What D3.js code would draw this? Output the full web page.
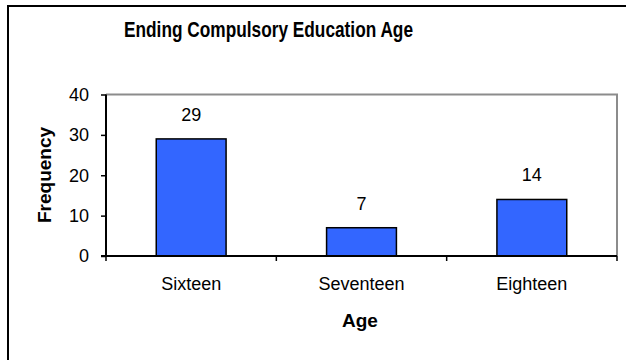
<!DOCTYPE html>
<html>
<head>
<meta charset="utf-8">
<script src="https://cdn.jsdelivr.net/npm/d3@7"></script>
<style>
  html, body { margin: 0; padding: 0; background: #fff; }
  svg { display: block; }
  text { font-family: "Liberation Sans", Arial, sans-serif; fill: #000; }
</style>
</head>
<body>
<svg id="chart" width="626" height="360"></svg>
<script>
// Survey results: age at which compulsory education ends
const categories = ["Sixteen", "Seventeen", "Eighteen"];
const frequencies = [29, 7, 14];
const yTicks = [0, 10, 20, 30, 40];
const titleText = "Ending Compulsory Education Age";
const xTitle = "Age";
const yTitle = "Frequency";

const svg = d3.select("#chart");

// outer chart frame (runs off the right and bottom edges)
svg.append("rect")
  .attr("x", 8).attr("y", 6)
  .attr("width", 700).attr("height", 400)
  .attr("fill", "#fff")
  .attr("stroke", "#000")
  .attr("stroke-width", 2);

const plot = { left: 106, right: 617, top: 94.5, bottom: 256 };

const x = d3.scaleBand()
  .domain(categories)
  .range([plot.left, plot.right])
  .paddingInner(0.59)
  .paddingOuter(0.295);

const y = d3.scaleLinear()
  .domain([0, 40])
  .range([plot.bottom, plot.top]);

// plot area border (top and right, grey)
svg.append("path")
  .attr("d", `M${plot.left},${y(40)}H${plot.right}V${plot.bottom}`)
  .attr("fill", "none")
  .attr("stroke", "#8c8c8c")
  .attr("stroke-width", 2);

// bars
svg.append("g").selectAll("rect")
  .data(categories)
  .join("rect")
  .attr("x", d => x(d))
  .attr("width", x.bandwidth())
  .attr("y", (d, i) => y(frequencies[i]))
  .attr("height", (d, i) => y(0) - y(frequencies[i]))
  .attr("fill", "#3366ff")
  .attr("stroke", "#000")
  .attr("stroke-width", 1.5);

// value labels
svg.append("g").selectAll("text")
  .data(categories)
  .join("text")
  .attr("x", d => x(d) + x.bandwidth() / 2)
  .attr("y", (d, i) => y(frequencies[i]) - 18)
  .attr("text-anchor", "middle")
  .style("font-size", "18px")
  .text((d, i) => frequencies[i]);

// y axis
const yAxis = d3.axisLeft(y).tickValues(yTicks).tickSize(5).tickPadding(12);
const gy = svg.append("g").attr("transform", `translate(${plot.left},0)`).call(yAxis);
gy.select(".domain").attr("stroke", "#000").attr("stroke-width", 2)
  .attr("d", `M0,${y(40)}V${plot.bottom}`);
gy.selectAll(".tick line").attr("stroke", "#000").attr("stroke-width", 1.5);
gy.selectAll(".tick text")
  .style("font-size", "18px")
  .style("font-family", "'Liberation Sans', Arial, sans-serif")
  .attr("fill", "#000");

// x axis with ticks at category boundaries
const gx = svg.append("g").attr("transform", `translate(0,${plot.bottom})`);
gx.append("line")
  .attr("x1", plot.left - 5).attr("x2", plot.right)
  .attr("stroke", "#000").attr("stroke-width", 2);
const step = x.step();
const boundaries = d3.range(categories.length + 1).map(i => plot.left + i * step);
gx.selectAll("line.tk")
  .data(boundaries)
  .join("line")
  .attr("class", "tk")
  .attr("x1", d => d).attr("x2", d => d)
  .attr("y1", 0).attr("y2", 5)
  .attr("stroke", "#000").attr("stroke-width", 1.5);
gx.selectAll("text.cat")
  .data(categories)
  .join("text")
  .attr("class", "cat")
  .attr("x", d => x(d) + x.bandwidth() / 2)
  .attr("y", 34)
  .attr("text-anchor", "middle")
  .style("font-size", "18px")
  .text(d => d);

// titles
svg.append("text")
  .attr("x", 268.5).attr("y", 37)
  .attr("text-anchor", "middle")
  .attr("textLength", 289)
  .attr("lengthAdjust", "spacingAndGlyphs")
  .style("font-family", "'Liberation Sans Narrow', 'Liberation Sans', Arial, sans-serif")
  .style("font-size", "22px")
  .style("font-weight", "bold")
  .text(titleText);

svg.append("text")
  .attr("x", 360).attr("y", 327)
  .attr("text-anchor", "middle")
  .style("font-size", "19px")
  .style("font-weight", "bold")
  .text(xTitle);

svg.append("text")
  .attr("transform", "translate(51,175) rotate(-90)")
  .attr("text-anchor", "middle")
  .style("font-size", "19px")
  .style("font-weight", "bold")
  .text(yTitle);
</script>
</body>
</html>
